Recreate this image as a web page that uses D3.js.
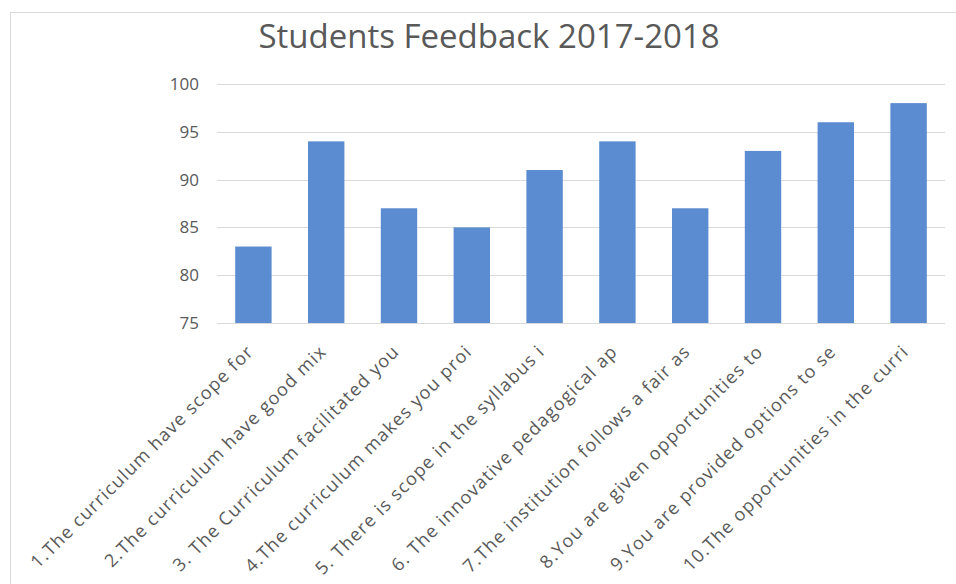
<!DOCTYPE html>
<html>
<meta charset="utf-8">
<style>
  body { margin: 0; background: #fff; }
  svg { width: 956px; height: 584px; font-family: "Open Sans", "Liberation Sans", sans-serif; }
  .grid line { stroke: #d9d9d9; shape-rendering: crispEdges; }
  .grid path { display: none; }
  .axis text { fill: #595959; font-family: "Open Sans", "Liberation Sans", sans-serif; }
  .axis path, .axis line { display: none; }
</style>
<body>
  <svg></svg>
</body>
<script src="https://d3js.org/d3.v7.min.js"></script>
<script>

var categories = ["1.The curriculum have scope for", "2.The curriculum have good mix",
  "3. The Curriculum facilitated you", "4.The curriculum makes you proi",
  "5. There is scope in the syllabus i", "6. The innovative pedagogical ap",
  "7.The institution follows a fair as", "8.You are given opportunities to",
  "9.You are provided options to se", "10.The opportunities in the curri"];
var values = [83, 94, 87, 85, 91, 94, 87, 93, 96, 98];
var yTicks = [75, 80, 85, 90, 95, 100];

var margin = {top: 84, right: 11, bottom: 261, left: 217},
  width = 956 - margin.left - margin.right,
  height = 584 - margin.top - margin.bottom;

var root = d3.select("svg");

// outer chart border
root.append("rect")
  .attr("x", 10.5).attr("y", 12.5).attr("width", 960).attr("height", 600)
  .attr("fill", "none").attr("stroke", "#d9d9d9");

root.append("text")
  .attr("x", 489).attr("y", 48)
  .attr("text-anchor", "middle")
  .style("font-size", "33px")
  .style("fill", "#595959")
  .text("Students Feedback 2017-2018");

var svg = root.append("g").attr("transform", "translate(" + margin.left + "," + margin.top + ")");

var xScale = d3.scaleBand()
  .domain(categories)
  .range([0, width])
  .paddingInner(0.5)
  .paddingOuter(0.25);

var yScale = d3.scaleLinear()
  .domain([75, 100])
  .range([height, 0]);

svg.append("g")
  .attr("class", "grid")
  .call(d3.axisLeft(yScale).tickValues(yTicks).tickSize(-width).tickFormat(""));

svg.selectAll("rect.bar")
  .data(values)
  .enter().append("rect")
    .attr("class", "bar")
    .attr("x", function(d, i) { return xScale(categories[i]); })
    .attr("y", function(d) { return yScale(d); })
    .attr("width", xScale.bandwidth())
    .attr("height", function(d) { return height - yScale(d); })
    .attr("fill", "#5b8bd0");

var yAxis = svg.append("g")
  .attr("class", "axis")
  .call(d3.axisLeft(yScale).tickValues(yTicks).tickSize(0).tickPadding(18));
yAxis.selectAll("text").style("font-size", "17px");

var xAxis = svg.append("g")
  .attr("class", "axis")
  .attr("transform", "translate(0," + height + ")")
  .call(d3.axisBottom(xScale).tickSize(0));
xAxis.selectAll("text")
  .style("font-size", "18px")
  .style("letter-spacing", "1.2px")
  .style("text-anchor", "end")
  .attr("dx", "-20px")
  .attr("dy", "1.05em")
  .attr("transform", "rotate(-45)");

</script>
</html>
